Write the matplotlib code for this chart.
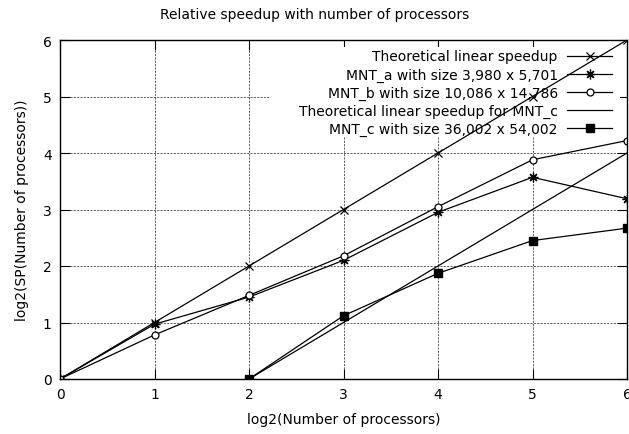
import matplotlib
matplotlib.use("Agg")
import matplotlib.pyplot as plt
from matplotlib.patches import Rectangle

x_all = [0, 1, 2, 3, 4, 5, 6]
theoretical = [0, 1, 2, 3, 4, 5, 6]
mnt_a = [0, 0.97, 1.45, 2.10, 2.95, 3.57, 3.19]
mnt_b = [0, 0.78, 1.48, 2.18, 3.05, 3.88, 4.22]
x_c = [2, 3, 4, 5, 6]
theoretical_c = [0, 1, 2, 3, 4]
mnt_c = [0, 1.12, 1.87, 2.45, 2.67]

labels = ["Theoretical linear speedup", "MNT_a with size 3,980 x 5,701",
          "MNT_b with size 10,086 x 14,786", "Theoretical linear speedup for MNT_c",
          "MNT_c with size 36,002 x 54,002"]

plt.rcParams['font.family'] = ['DejaVu Sans']
fig = plt.figure(figsize=(6.29, 4.35), dpi=100)
ax = fig.add_axes([60/629, 55/435, 567/629, 339/435])

lw = 0.9
ax.plot(x_all, theoretical, color='black', lw=lw, marker='x', ms=6, mew=0.9, label=labels[0], zorder=3)
ax.plot(x_all, mnt_a, color='black', lw=lw, marker=(8, 2, 0), ms=7, mew=0.9, label=labels[1], zorder=3)
ax.plot(x_all, mnt_b, color='black', lw=lw, marker='o', ms=5, mfc='white', mew=0.9, label=labels[2], zorder=3)
ax.plot(x_c, theoretical_c, color='black', lw=lw, label=labels[3], zorder=3)
ax.plot(x_c, mnt_c, color='black', lw=lw, marker='s', ms=6, label=labels[4], zorder=3)

ax.set_xlim(0, 6)
ax.set_ylim(0, 6)
ax.set_xticks(range(7))
ax.set_yticks(range(7))
ax.grid(True, color='#444444', linestyle=(0, (2.5, 1.5)), lw=0.6)
ax.set_axisbelow(True)
ax.tick_params(direction='in', length=7, top=True, right=True, labelsize=10, width=0.8, pad=6)
for s in ax.spines.values():
    s.set_linewidth(1.0)
    s.set_zorder(4)

# opaque key box hiding the grid (layout element, axes-fraction coordinates)
ax.add_patch(Rectangle((0.37, 0.714), 0.618, 0.265, transform=ax.transAxes,
                       facecolor='white', edgecolor='none', zorder=1))

ax.set_xlabel("log2(Number of processors)", fontsize=10, labelpad=8)
ax.set_ylabel("log2(SP(Number of processors))", fontsize=10, labelpad=10)
fig.text(0.5, 1 - 15/435, "Relative speedup with number of processors", ha='center', va='center', fontsize=10)

leg = ax.legend(loc='upper right', bbox_to_anchor=(0.993, 1.005), markerfirst=False, frameon=False,
                fontsize=10, handlelength=3.2, handletextpad=0.7, borderpad=0.3,
                labelspacing=0.29)
leg.set_zorder(2)
for t in leg.get_texts():
    t.set_ha('right')
leg._legend_box.align = "right"

fig.savefig("out.png", dpi=100)
